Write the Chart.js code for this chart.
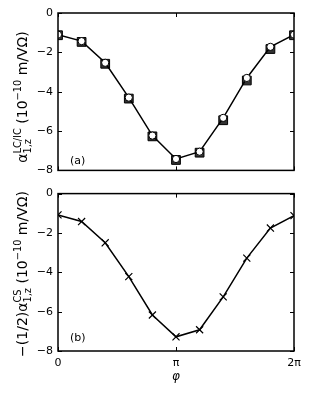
<!DOCTYPE html>
<html><head><meta charset="utf-8">
<script src="https://cdn.jsdelivr.net/npm/chart.js@4"></script>
<style>
html,body{margin:0;padding:0;background:#fff;}
#wrap{position:relative;width:311px;height:393px;overflow:hidden;}
canvas{position:absolute;left:0;}
</style></head><body>
<div id="wrap">
<canvas id="c1" width="311" height="182" style="top:0;width:311px;height:182px"></canvas>
<canvas id="c2" width="311" height="211" style="top:182px;width:311px;height:211px"></canvas>
</div>
<script>
// angle phi in units of pi
const phiOverPi = [0, 0.2, 0.4, 0.6, 0.8, 1.0, 1.2, 1.4, 1.6, 1.8, 2.0];
// panel (a): alpha_{1,z}^{LC/IC}  (10^-10 m/VOhm)
const alphaLC = [-1.13, -1.47, -2.58, -4.35, -6.27, -7.47, -7.10, -5.45, -3.43, -1.83, -1.13];
const alphaIC = [-1.10, -1.43, -2.53, -4.30, -6.23, -7.42, -7.05, -5.33, -3.30, -1.72, -1.10];
// panel (b): -(1/2) alpha_{1,z}^{CS}
const alphaCS = [-1.08, -1.42, -2.50, -4.22, -6.17, -7.28, -6.92, -5.25, -3.28, -1.75, -1.12];
const xTickValues = [0, Math.PI, 2 * Math.PI];
const xTickLabels = ['0', 'π', '2π'];
const yTickValues = [0, -2, -4, -6, -8];

const FONT = '"DejaVu Sans", sans-serif';
const pts = arr => arr.map((v, i) => ({ x: phiOverPi[i] * Math.PI, y: v }));

function drawRich(ctx, segs, baseX, centerY, F) {
  const S = F * 0.7;
  ctx.save();
  ctx.fillStyle = '#000';
  ctx.textBaseline = 'alphabetic';
  ctx.textAlign = 'left';
  let total = 0;
  for (const s of segs) {
    if (s.stack) {
      ctx.font = S + 'px ' + FONT;
      s.w = Math.max(ctx.measureText(s.sup).width, ctx.measureText(s.sub).width);
    } else {
      ctx.font = (s.sup ? S : F) + 'px ' + FONT;
      s.w = ctx.measureText(s.t).width;
    }
    total += s.w;
  }
  ctx.translate(baseX, centerY);
  ctx.rotate(-Math.PI / 2);
  let x = -total / 2;
  for (const s of segs) {
    if (s.stack) {
      ctx.font = S + 'px ' + FONT;
      ctx.fillText(s.sup, x, -F * 0.45);
      ctx.fillText(s.sub, x, F * 0.25);
    } else if (s.sup) {
      ctx.font = S + 'px ' + FONT;
      ctx.fillText(s.t, x, -F * 0.42);
    } else {
      ctx.font = F + 'px ' + FONT;
      ctx.fillText(s.t, x, 0);
    }
    x += s.w;
  }
  ctx.restore();
}

function makePlugin(labelSegs, labelCenterY, panelText, panelY, showPhi) {
  return {
    id: 'deco',
    afterDatasetsDraw(chart) {
      const { ctx, chartArea: a, scales: { x, y } } = chart;
      ctx.save();
      ctx.strokeStyle = '#000';
      ctx.lineWidth = 1;
      const L = 4;
      ctx.beginPath();
      for (const v of xTickValues) {
        const px = Math.round(x.getPixelForValue(v)) + 0.5;
        ctx.moveTo(px, a.bottom); ctx.lineTo(px, a.bottom - L);
        ctx.moveTo(px, a.top); ctx.lineTo(px, a.top + L);
      }
      for (const v of yTickValues) {
        const py = Math.round(y.getPixelForValue(v)) + 0.5;
        ctx.moveTo(a.left, py); ctx.lineTo(a.left + L, py);
        ctx.moveTo(a.right, py); ctx.lineTo(a.right - L, py);
      }
      ctx.stroke();
      ctx.lineWidth = 1.5;
      ctx.strokeRect(a.left, a.top, a.right - a.left, a.bottom - a.top);
      ctx.fillStyle = '#000';
      ctx.font = '11px ' + FONT;
      ctx.textAlign = 'left';
      ctx.textBaseline = 'alphabetic';
      ctx.fillText(panelText, a.left + 12, panelY);
      drawRich(ctx, labelSegs, 27, labelCenterY, 14);
      if (showPhi) {
        ctx.font = 'italic 12px ' + FONT;
        ctx.textAlign = 'center';
        ctx.fillText('φ', x.getPixelForValue(Math.PI), a.bottom + 29);
      }
      ctx.restore();
    }
  };
}

function baseOptions(top, xAxisH, showXLabels) {
  return {
    responsive: false,
    animation: false,
    devicePixelRatio: 1,
    layout: { padding: { left: 0, right: 17, top: top, bottom: 0 } },
    plugins: { legend: { display: false }, tooltip: { enabled: false } },
    scales: {
      x: {
        type: 'linear', min: 0, max: 2 * Math.PI,
        afterBuildTicks: s => { s.ticks = xTickValues.map(v => ({ value: v })); },
        afterFit: s => { s.height = xAxisH; },
        grid: { display: false, drawTicks: false, tickLength: 0 }, border: { display: false },
        ticks: {
          display: showXLabels, color: '#000', padding: 6, maxRotation: 0, autoSkip: false,
          font: { family: FONT, size: 11 },
          callback: (v) => { const i = xTickValues.indexOf(v); return i >= 0 ? xTickLabels[i] : ''; }
        }
      },
      y: {
        type: 'linear', min: -8, max: 0,
        afterBuildTicks: s => { s.ticks = yTickValues.map(v => ({ value: v })); },
        afterFit: s => { s.width = 58; },
        grid: { display: false, drawTicks: false, tickLength: 0 }, border: { display: false },
        ticks: {
          color: '#000', padding: 5,
          font: { family: FONT, size: 11 },
          callback: v => (v < 0 ? '−' + Math.abs(v) : String(v))
        }
      }
    }
  };
}

const labelA = [
  { t: 'α' },
  { stack: true, sup: 'LC/IC', sub: '1,z' },
  { t: ' (10' },
  { t: '−10', sup: true },
  { t: ' m/VΩ)' }
];
const labelB = [
  { t: '−(1/2)α' },
  { stack: true, sup: 'CS', sub: '1,z' },
  { t: ' (10' },
  { t: '−10', sup: true },
  { t: ' m/VΩ)' }
];

new Chart(document.getElementById('c1'), {
  type: 'scatter',
  data: {
    datasets: [
      {
        data: pts(alphaIC), showLine: true, borderColor: '#000', borderWidth: 1.5,
        pointStyle: 'circle', pointRadius: 3.6, pointBackgroundColor: '#fff',
        pointBorderColor: '#000', pointBorderWidth: 1, clip: 0, order: 1
      },
      {
        data: pts(alphaLC), showLine: false,
        pointStyle: 'rect', pointRadius: 6.2, pointBackgroundColor: '#333',
        pointBorderColor: '#000', pointBorderWidth: 1, clip: 0, order: 2
      }
    ]
  },
  options: baseOptions(13, 9, false),
  plugins: [makePlugin(labelA, 97, '(a)', 164, false)]
});

new Chart(document.getElementById('c2'), {
  type: 'scatter',
  data: {
    datasets: [
      {
        data: pts(alphaCS), showLine: true, borderColor: '#000', borderWidth: 1.5,
        pointStyle: 'crossRot', pointRadius: 5, pointBorderColor: '#000',
        pointBorderWidth: 1.2, clip: 0
      }
    ]
  },
  options: baseOptions(10, 42, true),
  plugins: [makePlugin(labelB, 274 - 182, '(b)', 341 - 182, true)]
});
</script>
</body></html>
